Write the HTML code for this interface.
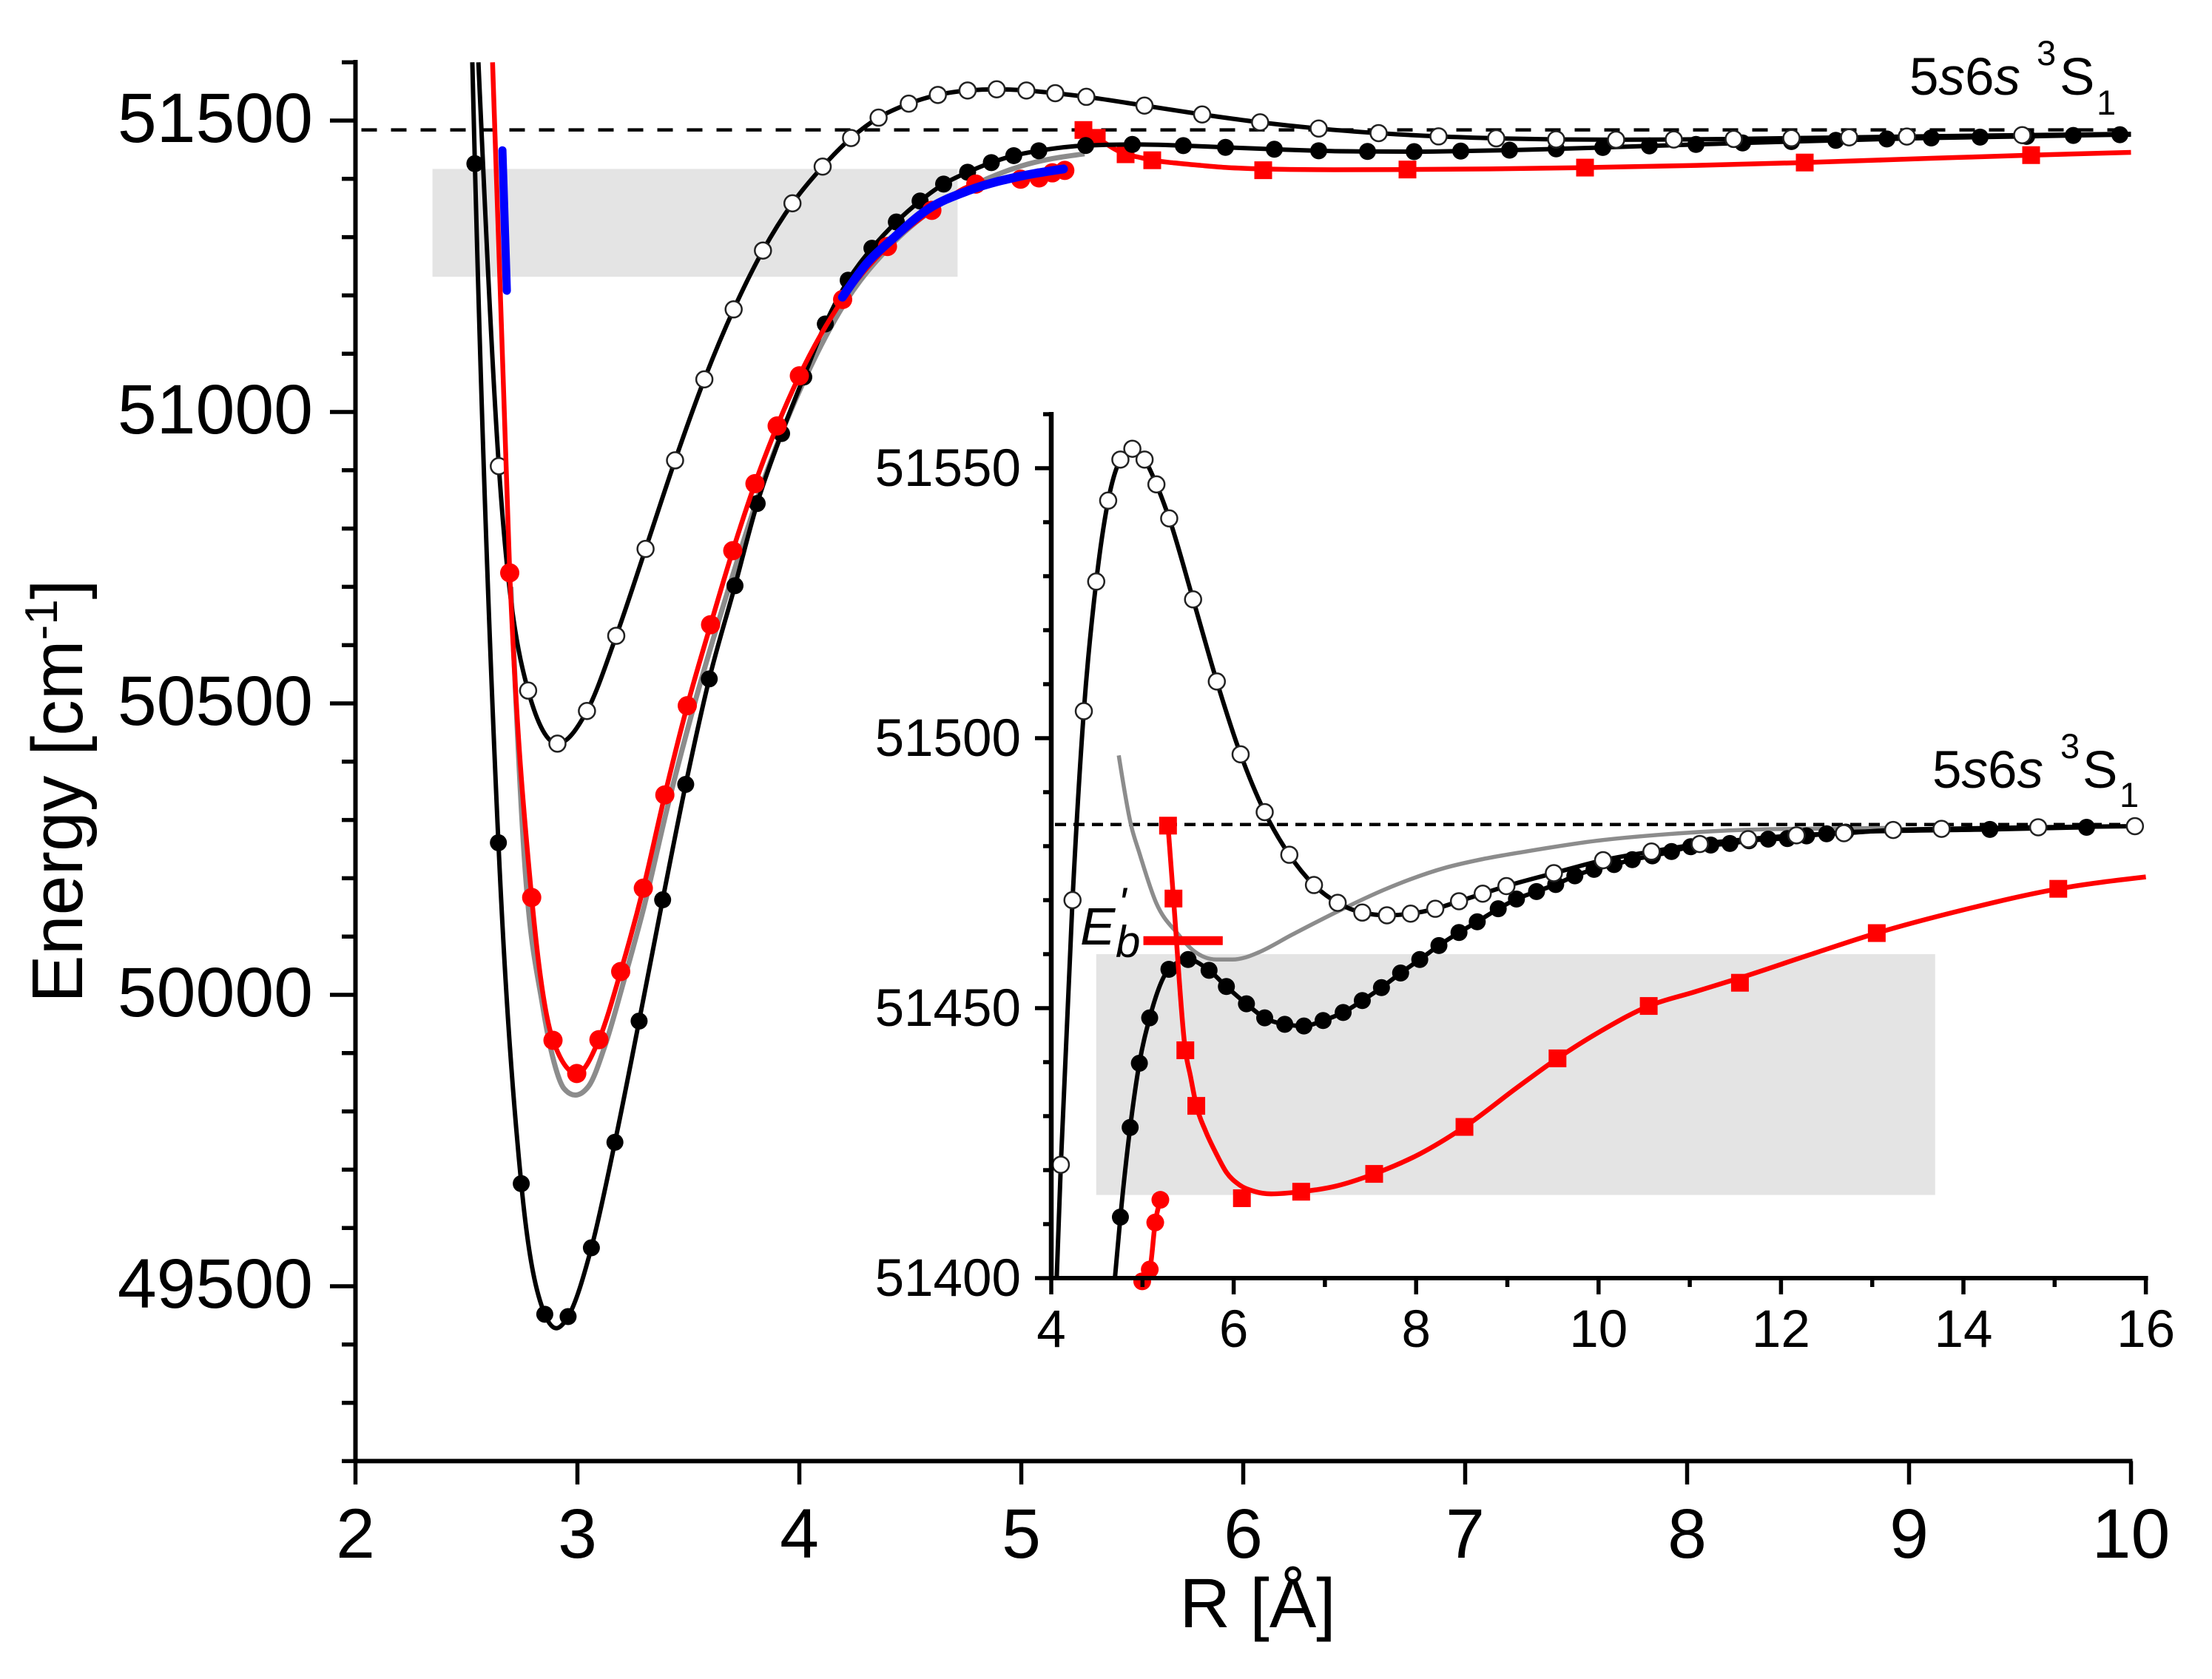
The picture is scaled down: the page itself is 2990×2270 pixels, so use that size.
<!DOCTYPE html>
<html lang="en">
<head>
<meta charset="utf-8">
<title>Potential energy curves near 5s6s 3S1</title>
<style>
html,body{margin:0;padding:0;background:#fff;overflow:hidden;width:2990px;height:2270px;}
svg{display:block;font-family:"Liberation Sans",Arial,sans-serif;fill:#000;}
</style>
</head>
<body>
<svg id="chart" xmlns="http://www.w3.org/2000/svg" width="2990" height="2270" viewBox="0 0 2990 2270">
  <rect x="0" y="0" width="2990" height="2270" fill="#fff"/>
  <g id="main-marks"></g>
  <g id="inset-marks"></g>
  <g id="axes"></g>

  <text x="1700" y="2200" font-size="95" text-anchor="middle">R [Å]</text>
  <text transform="translate(111,1356) rotate(-90)" font-size="97">Energy [cm<tspan font-size="62" dy="-34">-1</tspan><tspan dy="34">]</tspan></text>

  <g>
    <text x="2581" y="128" font-size="71">5<tspan font-style="italic">s</tspan>6<tspan font-style="italic">s</tspan></text>
    <text x="2753" y="88" font-size="47">3</text>
    <text x="2784" y="128" font-size="71">S</text>
    <text x="2834" y="155" font-size="47">1</text>
  </g>
  <g>
    <text x="2612" y="1065" font-size="71">5<tspan font-style="italic">s</tspan>6<tspan font-style="italic">s</tspan></text>
    <text x="2785" y="1025" font-size="47">3</text>
    <text x="2815" y="1065" font-size="71">S</text>
    <text x="2865" y="1091" font-size="47">1</text>
  </g>
  <g>
    <text x="1460" y="1277" font-size="71" font-style="italic">E</text>
    <text x="1508" y="1294" font-size="60" font-style="italic">b</text>
    <text x="1511" y="1242" font-size="60" font-style="italic">'</text>
  </g>
</svg>
<script>
// ---- Axis tick values and labels ----
const mainXTicks = [2, 3, 4, 5, 6, 7, 8, 9, 10];
const mainYLabels = [49500, 50000, 50500, 51000, 51500];
const mainYMinorTicks = [49200,49300,49400,49600,49700,49800,49900,50100,50200,50300,50400,50600,50700,50800,50900,51100,51200,51300,51400,51600];
const insetXTicks = [4, 6, 8, 10, 12, 14, 16];
const insetXMinorTicks = [5, 7, 9, 11, 13, 15];
const insetYLabels = [51400, 51450, 51500, 51550];
const insetYMinorTicks = [51410,51420,51430,51440,51460,51470,51480,51490,51510,51520,51530,51540,51560];

// ---- Series: black filled circles ----
const filledR = [2.434,2.538,2.644,2.747,2.853,2.958,3.063,3.169,3.278,3.384,3.488,3.594,3.71,3.81,3.92,4.02,4.117,4.22,4.327,4.437,4.544,4.65,4.758,4.865,4.966,5.079,5.29,5.5,5.73,5.92,6.14,6.34,6.56,6.77,6.98,7.2,7.41,7.62,7.83,8.04,8.25,8.47,8.67,8.9,9.1,9.32,9.53,9.74,9.95,10.17,10.37,10.59,10.8,11.01,11.23,11.44,11.65,11.86,12.07,12.28,12.5,12.71,14.29,15.35];
const filledE = [53000,51426,50261,49676,49452,49448,49566,49747,49955,50163,50361,50542,50702,50843,50963,51060,51151,51226,51281,51326,51362,51391,51411.3,51427.9,51439.8,51448.2,51457.2,51459,51457,51454,51450.8,51448.2,51447,51446.7,51447.7,51449.2,51451.4,51453.8,51456.5,51459,51461.6,51464,51466,51468.4,51470.2,51471.6,51472.9,51474.5,51475.7,51476.6,51477.5,51478.2,51479,51479.9,51480.2,51480.5,51481,51481.3,51481.4,51481.9,51482.3,51482.6,51483.1,51483.5];
const filledDipR = [2.905];
const filledDipE = [49428];

// ---- Series: black open circles ----
const openR = [2.514,2.646,2.778,2.91,3.043,3.175,3.307,3.44,3.572,3.704,3.836,3.969,4.105,4.233,4.357,4.493,4.624,4.758,4.889,5.023,5.153,5.293,5.555,5.815,6.076,6.34,6.61,6.88,7.14,7.41,7.68,7.94,8.21,8.47,8.73,8.99,9.51,10.05,10.58,11.11,11.64,12.17,12.69,13.23,13.76,14.82,15.88];
const openE = [51900,50907,50522,50431,50487,50616,50765,50917,51056,51176,51277,51358,51421,51470,51505,51529,51544,51551.6,51553.6,51551.6,51547,51540.7,51525.7,51510.5,51497,51486.3,51478.4,51472.8,51469.5,51467.7,51467.2,51467.5,51468.4,51469.8,51471.2,51472.6,51475,51477.4,51479,51480.4,51481.3,51482,51482.4,51483,51483.2,51483.5,51483.7];

// ---- Series: red circles ----
const redCircleR = [2.6,2.695,2.794,2.89,2.997,3.097,3.195,3.297,3.394,3.495,3.6,3.7,3.8,3.9,4.0,4.195,4.397,4.597,4.795,4.997,5.08,5.14,5.196];
const redCircleE = [51800,50724,50167,49922,49865,49923,50040,50183,50343,50496,50635,50762,50877,50976,51062,51193,51284,51346,51391,51399.4,51401.6,51410.3,51414.5];

// ---- Series: red squares and the curve drawn through them ----
const redSquareR = [5.28,5.34,5.47,5.59,6.09,6.74,7.54,8.53,9.55,10.55,11.55,13.05,15.04];
const redSquareE = [51483.8,51470.3,51442.2,51431.9,51414.8,51416,51419.3,51428,51440.7,51450.4,51454.7,51463.9,51472.1];
const redCurveR = [5.28,5.34,5.47,5.525,5.59,5.69,5.81,5.92,6.06,6.22,6.41,6.74,7.11,7.54,8.04,8.53,9.1,9.55,10.05,10.55,11.05,11.55,12.3,13.05,14,15.04,16];
const redCurveE = [51483.8,51470.3,51442.2,51437.5,51432,51427.3,51423,51419.6,51417.3,51416.1,51415.6,51416,51417,51419.3,51423,51428,51435.2,51440.7,51446,51450.4,51453,51455.6,51459.8,51463.9,51468.2,51472.1,51474.3];

// ---- Series: grey curves ----
const mainGreyR = [2.7,2.76,2.844,2.895,2.94,2.99,3.05,3.127,3.21,3.3,3.405,3.51,3.7,3.848,4.03,4.21,4.41,4.61,4.8,5.0,5.285];
const mainGreyE = [50700,50240,49980,49884,49839,49828,49843,49916,50025,50151,50321,50475,50720,50892,51061,51190,51285,51350,51392,51422,51443];
const insetGreyR = [4.74,4.876,4.965,5.15,5.385,5.57,5.81,5.99,6.13,6.27,6.64,7.15,7.66,8.32,8.7,9.2,9.98,10.74,11.77,12.8,13.3];
const insetGreyE = [51496.8,51483.8,51478.8,51469.5,51463.8,51460.5,51459,51459,51459.4,51460.3,51463.6,51468,51472,51476,51477.5,51479,51481,51482.2,51483.1,51483.3,51483.4];

// ---- Series: blue segments (main panel) ----
const blueInnerR = [2.662,2.682];
const blueInnerE = [51449,51208];
const blueOuterR = [4.194,4.304,4.42,4.572,4.77,4.99,5.19];
const blueOuterE = [51197,51255,51297,51346,51381,51404,51417];

// ---- Reference values ----
const asymptoteE = [51484];
const mainBandR = [2.347,4.713];
const mainBandE = [51232,51417];
const insetBandR = [4.493,13.69];
const insetBandE = [51415.4,51460];
const bindingR = [5.01,5.88];
const bindingE = [51462.5];

// ---- Axis functions ----
const mainX = r => 480.5 + (r - 2) * 300;
const mainY = e => 163 + (51500 - e) * 0.788;
const insetX = r => 1421 + (r - 4) * 123.3;
const insetY = e => 1728 - (e - 51400) * 7.3;

const NS = 'http://www.w3.org/2000/svg';
function make(parent, tag, props) {
  const el = document.createElementNS(NS, tag);
  for (const k in props) el.setAttribute(k, props[k]);
  parent.appendChild(el);
  return el;
}

// Keep only the part of a series inside the plot box, cutting at the frame
function clipToBox(pts, box) {
  const inside = p => p[0] >= box[0] && p[0] <= box[2] && p[1] >= box[1] && p[1] <= box[3];
  const cut = (a, b) => {
    // a inside, b outside: return the crossing point on the box edge
    let t = 1;
    if (b[0] > box[2]) t = Math.min(t, (box[2] - a[0]) / (b[0] - a[0]));
    if (b[0] < box[0]) t = Math.min(t, (box[0] - a[0]) / (b[0] - a[0]));
    if (b[1] > box[3]) t = Math.min(t, (box[3] - a[1]) / (b[1] - a[1]));
    if (b[1] < box[1]) t = Math.min(t, (box[1] - a[1]) / (b[1] - a[1]));
    return [a[0] + (b[0] - a[0]) * t, a[1] + (b[1] - a[1]) * t];
  };
  const out = [];
  pts.forEach((p, i) => {
    if (inside(p)) {
      if (i > 0 && !inside(pts[i - 1])) out.push(cut(p, pts[i - 1]));
      out.push(p);
    } else if (i > 0 && inside(pts[i - 1])) {
      out.push(cut(pts[i - 1], p));
    }
  });
  return out;
}

// Monotone cubic path through pixel points
function curvePath(pts) {
  const n = pts.length;
  if (n < 2) return '';
  if (n === 2) return 'M' + pts[0][0] + ',' + pts[0][1] + 'L' + pts[1][0] + ',' + pts[1][1];
  const h = [], d = [], m = new Array(n);
  for (let i = 0; i < n - 1; i++) {
    h[i] = Math.max(pts[i + 1][0] - pts[i][0], 0.01);
    d[i] = (pts[i + 1][1] - pts[i][1]) / h[i];
  }
  for (let i = 1; i < n - 1; i++) {
    if (d[i - 1] * d[i] <= 0) { m[i] = 0; continue; }
    const p = (d[i - 1] * h[i] + d[i] * h[i - 1]) / (h[i - 1] + h[i]);
    m[i] = 2 * Math.sign(d[i]) * Math.min(Math.abs(d[i - 1]), Math.abs(d[i]), 0.5 * Math.abs(p));
  }
  m[0] = (3 * d[0] - m[1]) / 2;
  m[n - 1] = (3 * d[n - 2] - m[n - 2]) / 2;
  let s = 'M' + pts[0][0].toFixed(2) + ',' + pts[0][1].toFixed(2);
  for (let i = 0; i < n - 1; i++) {
    const t = h[i] / 3;
    s += 'C' + (pts[i][0] + t).toFixed(2) + ',' + (pts[i][1] + t * m[i]).toFixed(2) + ' ' +
         (pts[i + 1][0] - t).toFixed(2) + ',' + (pts[i + 1][1] - t * m[i + 1]).toFixed(2) + ' ' +
         pts[i + 1][0].toFixed(2) + ',' + pts[i + 1][1].toFixed(2);
  }
  return s;
}

function drawCurve(g, name, xs, ys, fx, fy, stroke, width, box) {
  const pts = clipToBox(xs.map((x, i) => [fx(x), fy(ys[i])]), box);
  const el = make(g, 'path', { d: curvePath(pts), fill: 'none', stroke: stroke, 'stroke-width': width, 'stroke-linecap': 'butt', 'stroke-linejoin': 'round' });
  
  
  return el;
}

function drawCircles(g, name, xs, ys, fx, fy, xr, yr, r, fill, stroke, sw) {
  xs.forEach((x, i) => {
    if (x < xr[0] || x > xr[1] || ys[i] < yr[0] || ys[i] > yr[1]) return;
    const el = make(g, 'circle', { cx: fx(x), cy: fy(ys[i]), r: r, fill: fill, stroke: stroke, 'stroke-width': sw });
    
    
  });
}

function drawSquares(g, name, xs, ys, fx, fy, xr, yr, size) {
  xs.forEach((x, i) => {
    if (x < xr[0] || x > xr[1] || ys[i] < yr[0] || ys[i] > yr[1]) return;
    const el = make(g, 'rect', { x: fx(x) - size / 2, y: fy(ys[i]) - size / 2, width: size, height: size, fill: '#ff0000' });
    
    
  });
}

function mergeLine(xs, ys, extraX, extraY) {
  const all = xs.map((x, i) => [x, ys[i]]).concat(extraX.map((x, i) => [x, extraY[i]]));
  all.sort((a, b) => a[0] - b[0]);
  return [all.map(p => p[0]), all.map(p => p[1])];
}

function drawPanel(g, fx, fy, xr, yr, box, band, bandName, grey, sizes) {
  const rc = make(g, 'rect', {
    x: fx(band[0][0]), y: fy(band[1][1]),
    width: fx(band[0][1]) - fx(band[0][0]),
    height: fy(band[1][0]) - fy(band[1][1]),
    fill: '#e4e4e4'
  });
  
  

  const dash = make(g, 'line', { x1: fx(xr[0]) + sizes.dashInset, x2: fx(xr[1]), y1: fy(asymptoteE[0]), y2: fy(asymptoteE[0]), stroke: '#000', 'stroke-width': 4.5, 'stroke-dasharray': sizes.dash });
  
  

  drawCurve(g, 'grey-curve', grey[0], grey[1], fx, fy, '#8c8c8c', sizes.grey, box);

  if (sizes.squaresFirst) {
    drawCurve(g, 'red-square-curve', redCurveR, redCurveE, fx, fy, '#ff0000', 6.5, box);
    drawSquares(g, 'red-square-point', redSquareR, redSquareE, fx, fy, xr, yr, sizes.square);
  }

  const merged = mergeLine(filledR, filledE, filledDipR, filledDipE);
  drawCurve(g, 'black-filled-curve', merged[0], merged[1], fx, fy, '#000', 6, box);
  drawCircles(g, 'black-filled-point', filledR, filledE, fx, fy, xr, yr, 11.5, '#000', 'none', 0);

  if (!sizes.squaresFirst) {
    drawCurve(g, 'red-square-curve', redCurveR, redCurveE, fx, fy, '#ff0000', 6.5, box);
    drawSquares(g, 'red-square-point', redSquareR, redSquareE, fx, fy, xr, yr, sizes.square);
  }

  drawCurve(g, 'black-open-curve', openR, openE, fx, fy, '#000', 6, box);
  drawCircles(g, 'black-open-point', openR, openE, fx, fy, xr, yr, 11, '#fff', '#222', 2.5);

  drawCurve(g, 'red-circle-curve', redCircleR, redCircleE, fx, fy, '#ff0000', 6.5, box);
  drawCircles(g, 'red-circle-point', redCircleR, redCircleE, fx, fy, xr, yr, sizes.redCircle, '#ff0000', 'none', 0);
}

function axisLine(g, name, x1, y1, x2, y2, w) {
  const el = make(g, 'line', { x1: x1, y1: y1, x2: x2, y2: y2, stroke: '#000', 'stroke-width': w, 'stroke-linecap': 'butt' });
  
  
}

function label(g, name, x, y, txt, size, anchor) {
  const el = make(g, 'text', { x: x, y: y, 'font-size': size, 'text-anchor': anchor });
  el.textContent = txt;
  
  
}

const mainG = document.getElementById('main-marks');
const insetG = document.getElementById('inset-marks');
const axesG = document.getElementById('axes');

const mainBox = [mainX(2), mainY(51600), mainX(10), mainY(49200)];
const insetBox = [insetX(4), insetY(51560), insetX(16), insetY(51400)];

drawPanel(mainG, mainX, mainY, [2, 10], [49200, 51600], mainBox, [mainBandR, mainBandE], 'main-shaded-band', [mainGreyR, mainGreyE],
  { grey: 7, square: 24, redCircle: 13, dash: '21 19', dashInset: 8, squaresFirst: true });

// Blue segments, main panel only
drawCurve(mainG, 'blue-inner-segment', blueInnerR, blueInnerE, mainX, mainY, '#0000ff', 11, mainBox).setAttribute('stroke-linecap', 'round');
drawCurve(mainG, 'blue-outer-curve', blueOuterR, blueOuterE, mainX, mainY, '#0000ff', 12, mainBox).setAttribute('stroke-linecap', 'round');

drawPanel(insetG, insetX, insetY, [4, 16], [51399, 51560], insetBox, [insetBandR, insetBandE], 'inset-shaded-band', [insetGreyR, insetGreyE],
  { grey: 5.5, square: 24, redCircle: 12, dash: '15 10', dashInset: 5, squaresFirst: false });

// Binding energy marker
const bindingBar = make(insetG, 'line', { x1: insetX(bindingR[0]), x2: insetX(bindingR[1]), y1: insetY(bindingE[0]), y2: insetY(bindingE[0]), stroke: '#ff0000', 'stroke-width': 12 });



// Main axes
axisLine(axesG, 'main-y-axis', mainX(2), 81, mainX(2), 1977, 6);
axisLine(axesG, 'main-x-axis', mainX(2) - 2, mainY(49200), mainX(10) + 2, mainY(49200), 6);
mainXTicks.forEach(v => {
  axisLine(axesG, 'main-x-tick', mainX(v), mainY(49200), mainX(v), 2007, 5.5);
  label(axesG, 'main-x-tick-label', mainX(v), 2106, String(v), 95, 'middle');
});
mainYLabels.forEach(v => {
  axisLine(axesG, 'main-y-tick', 446, mainY(v), mainX(2), mainY(v), 5.5);
  label(axesG, 'main-y-tick-label', 423, mainY(v) + 29, String(v), 95, 'end');
});
mainYMinorTicks.forEach(v => {
  axisLine(axesG, 'main-y-minor-tick', 462, mainY(v), mainX(2), mainY(v), 5.5);
});

// Inset axes
axisLine(axesG, 'inset-y-axis', insetX(4), 557, insetX(4), 1731, 6.5);
axisLine(axesG, 'inset-x-axis', insetX(4) - 2, insetY(51400), insetX(16) + 3, insetY(51400), 6);
insetXTicks.forEach(v => {
  axisLine(axesG, 'inset-x-tick', insetX(v), insetY(51400), insetX(v), 1750, 5.5);
  label(axesG, 'inset-x-tick-label', insetX(v), 1821, String(v), 71, 'middle');
});
insetXMinorTicks.forEach(v => {
  axisLine(axesG, 'inset-x-minor-tick', insetX(v), insetY(51400), insetX(v), 1740, 5.5);
});
insetYLabels.forEach(v => {
  axisLine(axesG, 'inset-y-tick', 1399, insetY(v), insetX(4), insetY(v), 5.5);
  label(axesG, 'inset-y-tick-label', 1380, insetY(v) + 24, String(v), 71, 'end');
});
insetYMinorTicks.forEach(v => {
  axisLine(axesG, 'inset-y-minor-tick', 1410, insetY(v), insetX(4), insetY(v), 5.5);
});
</script>
</body>
</html>
